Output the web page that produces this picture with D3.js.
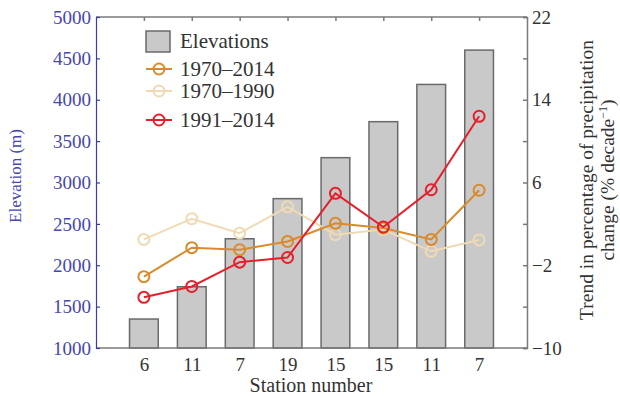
<!DOCTYPE html>
<html><head><meta charset="utf-8">
<script src="https://cdn.jsdelivr.net/npm/d3@7/dist/d3.min.js"></script>
<style>
html,body{margin:0;padding:0;background:#fff;}
svg{display:block;font-family:"Liberation Serif","DejaVu Serif",serif;}
</style></head><body>
<svg id="chart" width="620" height="398"></svg>
<script>
const stations = ["6","11","7","19","15","15","11","7"];
const elevations = [1350, 1740, 2320, 2805, 3300, 3735, 4185, 4600];
const trend1970_2014 = [-3.1, -0.3, -0.5, 0.3, 2.05, 1.6, 0.5, 5.25];
const trend1970_1990 = [0.5, 2.5, 1.1, 3.65, 0.95, 1.45, -0.65, 0.45];
const trend1991_2014 = [-5.1, -4.05, -1.7, -1.25, 4.95, 1.7, 5.3, 12.4];
const leftTicks = [1000,1500,2000,2500,3000,3500,4000,4500,5000];
const rightTicks = [-10,-6,-2,2,6,10,14,18,22];
const rightLabels = [-10,-2,6,14,22];

const series = [
  {name:"1970\u20132014", values: trend1970_2014, color:"#d98b2b"},
  {name:"1970\u20131990", values: trend1970_1990, color:"#f0dab3"},
  {name:"1991\u20132014", values: trend1991_2014, color:"#e5202b"}
];

const L=96, R=527, T=17, B=348;
const svg = d3.select("#chart");
const idx = d3.range(stations.length);
const x = d3.scalePoint().domain(idx).range([L,R]).padding(1);
const yL = d3.scaleLinear().domain([1000,5000]).range([B,T]);
const yR = d3.scaleLinear().domain([-10,22]).range([B,T]);
const barW = x.step()*0.6;
const blue = "#3c3ca8", grey = "#7a7a7a";

// bars
svg.append("g").selectAll("rect").data(elevations).join("rect")
  .attr("x",(d,i)=>x(i)-barW/2).attr("y",d=>yL(d))
  .attr("width",barW).attr("height",d=>yL(1000)-yL(d))
  .attr("fill","#c9c9c9").attr("stroke","#6a6a6a").attr("stroke-width",1.5);

// top & bottom axes (box)
const xTop = svg.append("g").attr("transform",`translate(0,${T})`)
  .call(d3.axisBottom(x).tickSize(4).tickFormat(""));
xTop.select(".domain").attr("d",`M${L},0H${R}`);
const xBot = svg.append("g").attr("transform",`translate(0,${B})`)
  .call(d3.axisBottom(x).tickSize(0).tickPadding(10).tickFormat(i=>stations[i]));
xBot.select(".domain").attr("d",`M${L},0H${R}`);
[xTop,xBot].forEach(g=>{g.selectAll(".domain,line").attr("stroke",grey).attr("stroke-width",1.5);});
xBot.selectAll("text").attr("font-size",19).attr("fill","#333").attr("font-family","Liberation Serif");

// left axis
const yAxL = svg.append("g").attr("transform",`translate(${L},0)`)
  .call(d3.axisRight(yL).tickValues(leftTicks).tickSize(4).tickFormat(""));
yAxL.selectAll(".domain,line").attr("stroke",blue).attr("stroke-width",1.2);
svg.append("g").selectAll("text").data(leftTicks).join("text")
  .attr("x",L-5).attr("y",d=>yL(d)).attr("dy","0.35em").attr("text-anchor","end")
  .attr("font-size",19).attr("fill","#4646b0").text(d=>d);

// right axis
const yAxR = svg.append("g").attr("transform",`translate(${R},0)`)
  .call(d3.axisLeft(yR).tickValues(rightTicks).tickSize(4).tickFormat(""));
yAxR.selectAll(".domain,line").attr("stroke",grey).attr("stroke-width",1.5);
svg.append("g").selectAll("text").data(rightLabels).join("text")
  .attr("x",R+5).attr("y",d=>yR(d)).attr("dy","0.35em").attr("text-anchor","start")
  .attr("font-size",19).attr("fill","#333").text(d=>d<0?"\u2212"+Math.abs(d):d);

// lines
const line = d3.line().x((d,i)=>x(i)).y(d=>yR(d));
const order = [series[1], series[0], series[2]];
order.forEach(s=>{
  const g = svg.append("g");
  g.append("path").datum(s.values).attr("d",line).attr("fill","none")
    .attr("stroke",s.color).attr("stroke-width",2);
  g.selectAll("circle").data(s.values).join("circle")
    .attr("cx",(d,i)=>x(i)).attr("cy",d=>yR(d)).attr("r",5.5)
    .attr("fill","none").attr("stroke",s.color).attr("stroke-width",2);
});

// legend
const lg = svg.append("g");
lg.append("rect").attr("x",146).attr("y",31).attr("width",24).attr("height",21)
  .attr("fill","#c9c9c9").attr("stroke","#6a6a6a").attr("stroke-width",1.5);
lg.append("text").attr("x",180).attr("y",48).attr("font-size",21).attr("fill","#333").text("Elevations");
const ly = [69, 91, 120];
series.forEach((s,k)=>{
  lg.append("line").attr("x1",146).attr("x2",172).attr("y1",ly[k]).attr("y2",ly[k])
    .attr("stroke",s.color).attr("stroke-width",2);
  lg.append("circle").attr("cx",159).attr("cy",ly[k]).attr("r",5.5)
    .attr("fill","none").attr("stroke",s.color).attr("stroke-width",2);
  lg.append("text").attr("x",180).attr("y",ly[k]+7).attr("font-size",21).attr("fill","#333").text(s.name);
});

// axis titles
svg.append("text").attr("transform","translate(21,176) rotate(-90)").attr("text-anchor","middle")
  .attr("font-size",17).attr("fill","#4646b0").text("Elevation (m)");
svg.append("text").attr("x",311).attr("y",392).attr("text-anchor","middle")
  .attr("font-size",20).attr("fill","#333").text("Station number");
svg.append("text").attr("transform","translate(593,180) rotate(-90)").attr("text-anchor","middle")
  .attr("font-size",19.5).attr("fill","#333").text("Trend in percentage of precipitation");
const t2 = svg.append("text").attr("transform","translate(614,180) rotate(-90)").attr("text-anchor","middle")
  .attr("font-size",19.5).attr("fill","#333");
t2.append("tspan").text("change (% decade");
t2.append("tspan").attr("font-size",12).attr("dy",-7).text("\u22121");
t2.append("tspan").attr("dy",7).text(")");
</script>
</body></html>
